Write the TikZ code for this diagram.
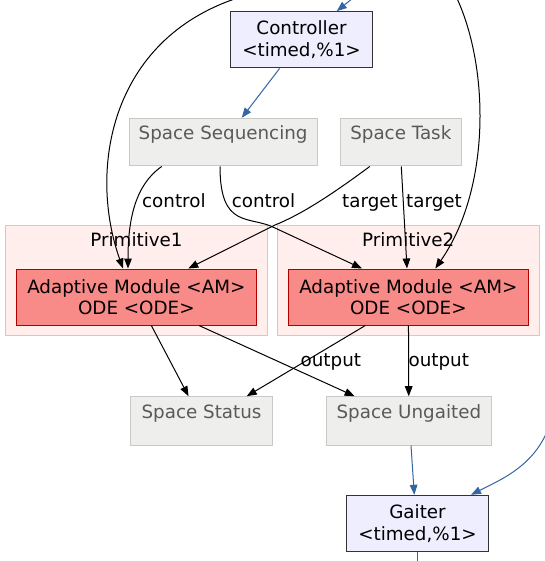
\documentclass[tikz,border=0pt]{standalone}
\usepackage{fontspec}
\setmainfont{DejaVu Sans}
\usetikzlibrary{arrows.meta}
\definecolor{ctrlfill}{HTML}{EEEEFF}
\definecolor{ctrldraw}{HTML}{333333}
\definecolor{spfill}{HTML}{EEEEEC}
\definecolor{spdraw}{HTML}{C8C8C4}
\definecolor{sptext}{HTML}{5A5A58}
\definecolor{clfill}{HTML}{FFEEEC}
\definecolor{cldraw}{HTML}{CCCCC8}
\definecolor{amfill}{HTML}{F88A88}
\definecolor{amdraw}{HTML}{B00000}
\definecolor{bluee}{HTML}{3465A4}
\tikzset{
  base font/.style={font=\fontsize{18.3}{21.5}\selectfont},
  ctrlbox/.style={base font, draw=ctrldraw, fill=ctrlfill, line width=1pt, align=center, inner sep=0pt},
  spacebox/.style={base font, draw=spdraw, fill=spfill, text=sptext, line width=1pt, inner sep=0pt, text height=14pt, text depth=18.3pt},
  clusterbox/.style={draw=cldraw, fill=clfill, line width=1pt, inner sep=0pt},
  ambox/.style={base font, draw=amdraw, fill=amfill, line width=1pt, align=center, inner sep=0pt},
  lbl/.style={base font, anchor=base, inner sep=0pt},
  edge/.style={draw=black, line width=1pt, -{Triangle[length=10pt,width=7.6pt]}},
  bedge/.style={draw=bluee, line width=1pt, -{Triangle[length=10pt,width=7.6pt]}},
  bline/.style={draw=bluee, line width=1pt}
}
\begin{document}
\begin{tikzpicture}[x=1pt,y=-1pt]
\useasboundingbox[fill=white] (0,0) rectangle (544,561);
% clusters
\node[clusterbox, minimum width=261.6pt, minimum height=110.7pt] (p1) at (136.5,280.35) {};
\node[clusterbox, minimum width=261.6pt, minimum height=110.7pt] (p2) at (408.5,280.35) {};
\node[lbl] (p1lbl) at (136.5,246) {Primitive1};
\node[lbl] (p2lbl) at (408.2,246) {Primitive2};
% nodes
\node[ctrlbox, minimum width=141.6pt, minimum height=56.3pt] (ctrl) at (301.5,39.85) {Controller\\<timed,\%1>};
\node[spacebox, minimum width=187.7pt, minimum height=47.7pt] (ss) at (223.15,142.15) {Space Sequencing};
\node[spacebox, minimum width=121pt, minimum height=47.7pt] (st) at (400.8,142.15) {Space Task};
\node[ambox, minimum width=240.7pt, minimum height=56pt] (am1) at (136.35,297) {Adaptive Module <AM>\\ODE <ODE>};
\node[ambox, minimum width=240.7pt, minimum height=56pt] (am2) at (408.35,297) {Adaptive Module <AM>\\ODE <ODE>};
\node[spacebox, minimum width=141.6pt, minimum height=48.3pt] (sstat) at (201.5,420.85) {Space Status};
\node[spacebox, minimum width=164.3pt, minimum height=48.3pt] (sung) at (408.85,420.85) {Space Ungaited};
\node[ctrlbox, minimum width=141.6pt, minimum height=56.4pt] (gait) at (417.5,523.5) {Gaiter\\<timed,\%1>};
% free ends
\coordinate (inctrl) at (353,-2);
\coordinate (topleft) at (237.5,-2);
\coordinate (topright) at (456.8,-2);
\coordinate (inright) at (546,434);
\coordinate (outgait) at (417.5,563);
% blue edges
\draw[bedge] (inctrl) -- (ctrl);
\draw[bedge] (ctrl) -- (ss);
\draw[bedge] ([xshift=2.15pt]sung.south) -- ([xshift=-3.2pt]gait.north);
\draw[bedge] (inright) .. controls (530,468) and (500,480) .. ([xshift=53.5pt]gait.north);
\draw[bline] (gait.south) -- (outgait);
% black edges
\draw[edge] (topleft) .. controls (110,40) and (88,170) .. ([xshift=-13.35pt]am1.north);
\draw[edge] (topright) .. controls (490,70) and (490,190) .. ([xshift=26.95pt]am2.north);
\draw[edge] ([xshift=-61.45pt]ss.south) .. controls (135,185) and (128,220) .. ([xshift=-8.35pt]am1.north);
\draw[edge] ([xshift=-3.15pt]ss.south) .. controls (220,230) and (250,215) .. (275,228) -- ([xshift=-46.35pt]am2.north);
\draw[edge] ([xshift=-31.1pt]st.south) .. controls (330,196) and (300,215) .. (275,225) -- ([xshift=51.95pt]am1.north);
\draw[edge] ([xshift=0.5pt]st.south) -- ([xshift=-1.35pt]am2.north);
\draw[edge] (am1) -- (sstat);
\draw[edge] (am1) -- (sung);
\draw[edge] ([xshift=-43pt]am2.south) -- ([xshift=45.2pt]sstat.north);
\draw[edge] (am2) -- (sung);
% edge labels
\node[lbl] (l1) at (173.85,207.7) {control};
\node[lbl] (l2) at (263.5,207.7) {control};
\node[lbl] (l3) at (370,207.7) {target};
\node[lbl] (l4) at (434,207.7) {target};
\node[lbl] (l5) at (330.85,366) {output};
\node[lbl] (l6) at (438.8,366) {output};
\end{tikzpicture}
\end{document}
